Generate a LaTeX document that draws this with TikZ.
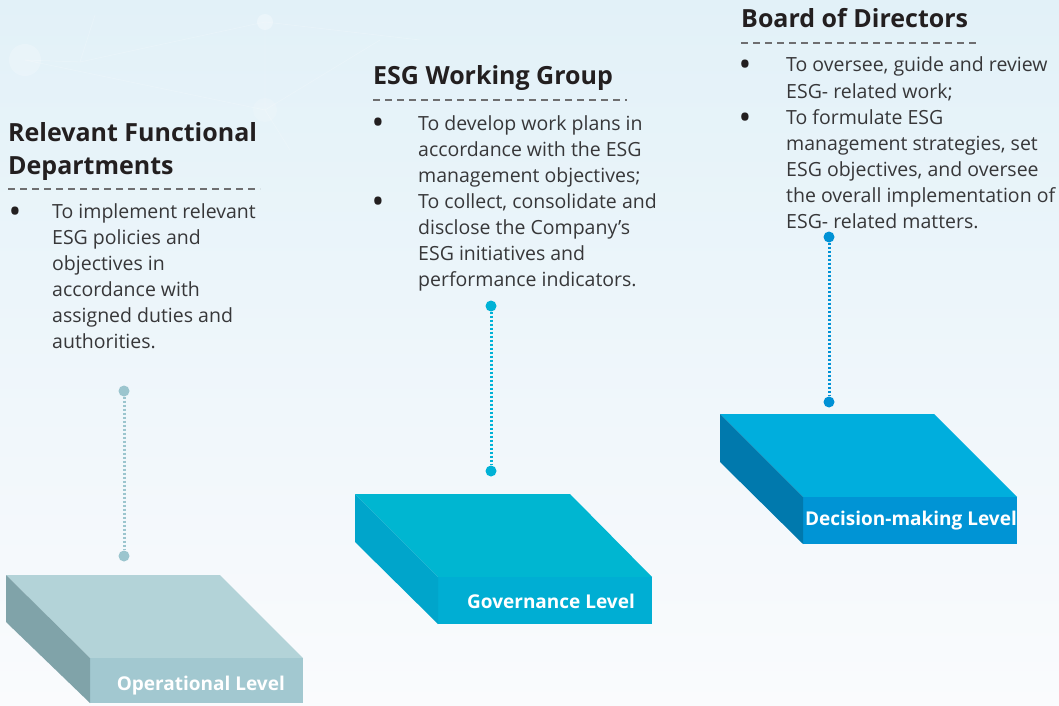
\documentclass[tikz,border=0pt]{standalone}
\usepackage{fontspec}
\setmainfont{Open Sans}
\definecolor{bgtop}{RGB}{226,241,248}
\definecolor{bgmid}{RGB}{242,248,251}
\definecolor{bgbot}{RGB}{250,251,253}
\definecolor{titlecol}{RGB}{35,31,32}
\definecolor{bodycol}{RGB}{55,55,57}
\definecolor{rulecol}{RGB}{110,110,112}
\definecolor{opTop}{RGB}{179,211,216}
\definecolor{opFront}{RGB}{162,200,208}
\definecolor{opSide}{RGB}{128,163,169}
\definecolor{opPin}{RGB}{155,197,206}
\definecolor{govTop}{RGB}{0,182,209}
\definecolor{govFront}{RGB}{0,174,211}
\definecolor{govSide}{RGB}{0,165,203}
\definecolor{govPin}{RGB}{0,178,214}
\definecolor{decTop}{RGB}{0,174,221}
\definecolor{decFront}{RGB}{0,148,213}
\definecolor{decSide}{RGB}{0,121,173}
\definecolor{decPin}{RGB}{0,145,213}
\begin{document}
% multi-line nodes are anchored at the baseline of their LAST line
\begin{tikzpicture}[x=1pt,y=-1pt,
  heading/.style={anchor=base west, inner sep=0pt, align=left, text=titlecol,
    font=\fontsize{25}{33}\selectfont\bfseries},
  bodytext/.style={anchor=base west, inner sep=0pt, align=left, text=bodycol,
    font=\fontsize{19.5}{26.1}\selectfont},
  bulletmark/.style={anchor=base, inner sep=0pt, text=titlecol,
    font=\fontsize{34}{34}\selectfont},
  headrule/.style={draw=rulecol, line width=1.3pt, dash pattern=on 7pt off 5pt},
  levelname/.style={anchor=base east, inner sep=0pt, text=white,
    font=\fontsize{19}{22}\selectfont\bfseries},
  pin/.style={circle, inner sep=0pt, minimum size=11pt},
  link/.style={line width=3pt, dash pattern=on 2.2pt off 1.8pt},
  net/.style={white, line width=0.8pt, opacity=0.18}]
\useasboundingbox (0,0) rectangle (1059,706);

% background wash
\shade[top color=bgtop, middle color=bgmid, bottom color=bgbot] (0,0) rectangle (1059,706);

% faint network texture
\draw[net] (25,60) -- (80,62) -- (265,22) -- (420,40);
\draw[net] (25,60) -- (265,110) -- (380,40);
\draw[net] (80,62) -- (95,15) (265,22) -- (265,110) -- (290,150);
\fill[white, opacity=0.22] (25,60) circle (16);
\fill[white, opacity=0.3] (265,22) circle (8);
\fill[white, opacity=0.15] (265,110) circle (12);

% ---- Operational level block
\fill[opTop]   (6,575) -- (220,575) -- (303,658) -- (90,658) -- cycle;
\fill[opFront] (90,658) -- (303,658) -- (303,703) -- (90,703) -- cycle;
\fill[opSide]  (6,575) -- (90,658) -- (90,703) -- (6,622) -- cycle;
\node[levelname] (oplbl) at (285,690) {Operational Level};

% ---- Governance level block
\fill[govTop]   (355,494) -- (570,494) -- (652,577) -- (438,577) -- cycle;
\fill[govFront] (438,577) -- (652,577) -- (652,624) -- (438,624) -- cycle;
\fill[govSide]  (355,494) -- (438,577) -- (438,624) -- (355,542) -- cycle;
\node[levelname] (govlbl) at (635,608) {Governance Level};

% ---- Decision-making level block
\fill[decTop]   (720,414) -- (934,414) -- (1017,497) -- (803,497) -- cycle;
\fill[decFront] (803,497) -- (1017,497) -- (1017,544) -- (803,544) -- cycle;
\fill[decSide]  (720,414) -- (803,497) -- (803,544) -- (720,462) -- cycle;
\node[levelname] (declbl) at (1017,525) {Decision-making Level};

% ---- pins linking each text block to its level
\node[pin, fill=opPin] (opA) at (124,391) {};
\node[pin, fill=opPin] (opB) at (124,556) {};
\draw[link, opPin] (opA) -- (opB);
\node[pin, fill=govPin] (govA) at (491,306) {};
\node[pin, fill=govPin] (govB) at (491,471) {};
\draw[link, govPin] (govA) -- (govB);
\node[pin, fill=decPin] (decA) at (829,237) {};
\node[pin, fill=decPin] (decB) at (829,402) {};
\draw[link, decPin] (decA) -- (decB);

% ---- Relevant Functional Departments
\node[heading] (t1) at (8,174) {Relevant Functional\\Departments};
\draw[headrule] (8,189) -- (260,189);
\node[bulletmark] (b1a) at (15,223) {•};
\node[bodytext] (x1a) at (52,348.5) {To implement relevant\\ESG policies and\\objectives in\\accordance with\\assigned duties and\\authorities.};

% ---- ESG Working Group
\node[heading] (t2) at (373,85) {ESG Working Group};
\draw[headrule] (373,100) -- (627,100);
\node[bulletmark] (b2a) at (378,135) {•};
\node[bodytext] (x2a) at (418,182.2) {To develop work plans in\\accordance with the ESG\\management objectives;};
\node[bulletmark] (b2b) at (378,213) {•};
\node[bodytext] (x2b) at (418,286.3) {To collect, consolidate and\\disclose the Company’s\\ESG initiatives and\\performance indicators.};

% ---- Board of Directors
\node[heading] (t3) at (741,28) {Board of Directors};
\draw[headrule] (741,43) -- (977,43);
\node[bulletmark] (b3a) at (745,77) {•};
\node[bodytext] (x3a) at (786,98.1) {To oversee, guide and review\\ESG- related work;};
\node[bulletmark] (b3b) at (745,129) {•};
\node[bodytext] (x3b) at (786,228.4) {To formulate ESG\\management strategies, set\\ESG objectives, and oversee\\the overall implementation of\\ESG- related matters.};
\end{tikzpicture}
\end{document}
